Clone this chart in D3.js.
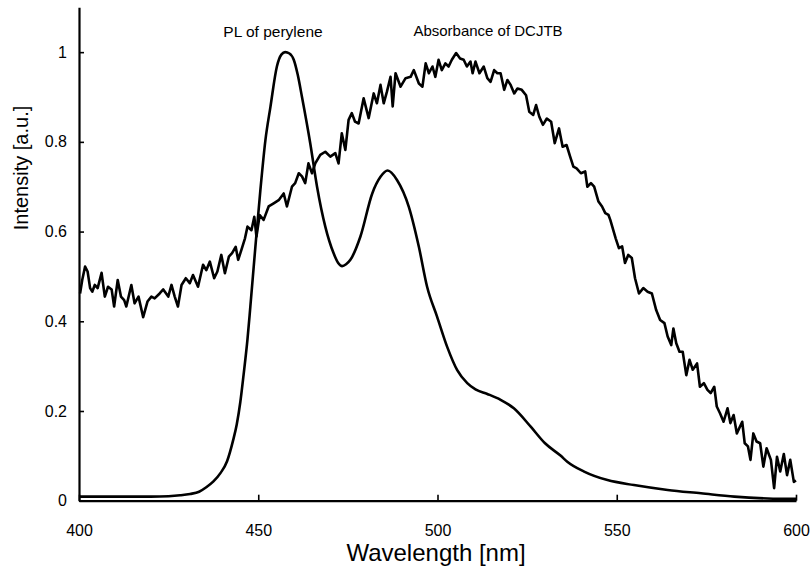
<!DOCTYPE html>
<html>
<head>
<meta charset="utf-8">
<script src="https://cdn.jsdelivr.net/npm/d3@7"></script>
<style>
  body { margin: 0; background: #fff; }
  svg text { font-family: "Liberation Sans", Arial, sans-serif; fill: #000; }
</style>
</head>
<body>
<div id="chart"></div>
<script>
////////////////////////////////////////////////////////////
//////////////////////// Data //////////////////////////////
////////////////////////////////////////////////////////////

// PL of perylene (smooth curve)
var plWavelength = [400, 410, 420, 425, 428.2, 431, 433.5, 435.5, 437.5, 439.5, 441.3, 443, 444, 445, 445.9, 447, 447.8,
  449.2, 450.6, 452, 453.4, 455.2, 456.5, 457.5, 458.7, 459.9, 461, 462.2, 464.5, 466.4, 468.7, 471, 472.3, 473.4,
  474.5, 475.7, 478.5, 481.8, 484.1, 486.1, 488.7, 492, 494.8, 497.1, 499.9, 502.7, 505.5, 508.3, 510.6, 513.9,
  517.6, 521.3, 526, 530, 534.4, 536.2, 540.9, 547.4, 554.8, 564.2, 573.5, 582.8, 592.1, 600];
var plIntensity = [0.009, 0.009, 0.009, 0.01, 0.012, 0.015, 0.02, 0.03, 0.043, 0.062, 0.088, 0.135, 0.17, 0.22, 0.28, 0.36, 0.433,
  0.566, 0.693, 0.804, 0.878, 0.968, 0.995, 1.0, 0.997, 0.983, 0.95, 0.9, 0.797, 0.7, 0.611, 0.552, 0.53, 0.523,
  0.527, 0.537, 0.589, 0.685, 0.722, 0.736, 0.715, 0.655, 0.566, 0.477, 0.41, 0.343, 0.291, 0.262, 0.248, 0.238,
  0.225, 0.206, 0.165, 0.128, 0.1, 0.087, 0.065, 0.046, 0.035, 0.024, 0.0165, 0.009, 0.005, 0.004];

// Absorbance of DCJTB (noisy curve)
var absWavelength = [400.3, 400.9, 401.7, 402.4, 403.1, 403.7, 404.4, 405.2, 406.3, 407.2, 408.1, 409.1, 409.8, 410.8,
  411.7, 412.6, 413.2, 414.6, 415.5, 416.6, 417.9, 419.1, 420.2, 421.1, 422.5, 423.5, 424.9, 425.8, 426.7, 427.6,
  428.6, 429.8, 430.9, 431.8, 433.2, 434.6, 435.5, 436.5, 437.7, 438.6, 439.7, 440.7, 441.8, 442.7, 443.7, 444.4,
  445.3, 446.3, 447.0, 448.1, 448.9, 449.5, 450.4, 451.5, 452.9, 454.3, 455.7, 457.1, 458.0, 459.4, 460.3, 461.3,
  462.2, 463.1, 464.0, 465.0, 465.9, 467.3, 468.7, 470.1, 471.5, 472.4, 473.3, 474.3, 475.2, 476.1, 477.0, 478.0,
  479.4, 480.8, 482.2, 483.1, 484.1, 485.0, 485.9, 486.9, 487.5, 488.3, 489.7, 491.1, 492.5, 493.4, 494.8, 495.8,
  496.7, 497.6, 498.6, 499.4, 500.3, 501.2, 502.2, 503.1, 504.0, 505.2, 506.3, 507.3, 508.2, 509.2, 509.8, 510.6,
  511.7, 512.9, 513.9, 514.8, 515.8, 516.7, 517.6, 518.6, 519.5, 520.4, 521.4, 522.3, 523.5, 524.7, 525.6, 526.7,
  527.5, 528.4, 529.4, 530.5, 531.7, 532.7, 533.9, 534.9, 536.0, 537.0, 537.9, 538.8, 540.0, 541.2, 541.8, 542.8,
  543.7, 544.9, 545.9, 546.8, 547.7, 548.2, 549.7, 550.6, 551.5, 552.3, 553.2, 554.2, 555.1, 556.2, 557.4, 558.6,
  559.8, 561.0, 562.1, 563.3, 564.2, 565.2, 565.8, 566.6, 567.5, 568.4, 569.4, 570.3, 571.2, 572.4, 573.2, 574.3,
  575.3, 576.2, 577.2, 577.9, 578.8, 579.8, 580.9, 581.7, 582.6, 583.5, 585.0, 585.7, 586.6, 587.3, 588.1, 589.0,
  590.0, 590.9, 591.8, 593.0, 593.9, 594.7, 595.6, 596.6, 597.5, 598.4, 599.4, 600];
var absIntensity = [0.462, 0.492, 0.522, 0.511, 0.474, 0.466, 0.481, 0.474, 0.508, 0.455, 0.477, 0.471, 0.433, 0.492,
  0.455, 0.447, 0.433, 0.481, 0.44, 0.455, 0.409, 0.444, 0.455, 0.451, 0.462, 0.471, 0.455, 0.481, 0.455, 0.433,
  0.481, 0.496, 0.485, 0.503, 0.477, 0.526, 0.514, 0.533, 0.496, 0.511, 0.548, 0.507, 0.544, 0.552, 0.566, 0.537,
  0.559, 0.585, 0.611, 0.603, 0.633, 0.589, 0.637, 0.626, 0.656, 0.663, 0.67, 0.685, 0.656, 0.7, 0.708, 0.73,
  0.723, 0.708, 0.752, 0.73, 0.752, 0.771, 0.778, 0.767, 0.775, 0.752, 0.819, 0.782, 0.849, 0.864, 0.845, 0.841,
  0.897, 0.853, 0.908, 0.886, 0.927, 0.886, 0.912, 0.945, 0.879, 0.953, 0.923, 0.942, 0.945, 0.96, 0.93, 0.923,
  0.975, 0.953, 0.968, 0.945, 0.983, 0.96, 0.975, 0.968, 0.983, 0.998, 0.986, 0.983, 0.968, 0.979, 0.953, 0.979,
  0.953, 0.968, 0.942, 0.934, 0.96, 0.953, 0.953, 0.916, 0.938, 0.927, 0.908, 0.919, 0.916, 0.904, 0.867, 0.86,
  0.882, 0.856, 0.838, 0.852, 0.845, 0.797, 0.83, 0.789, 0.793, 0.767, 0.745, 0.741, 0.73, 0.734, 0.7, 0.708,
  0.7, 0.667, 0.656, 0.641, 0.637, 0.626, 0.585, 0.563, 0.567, 0.53, 0.548, 0.541, 0.496, 0.462, 0.474, 0.466,
  0.462, 0.425, 0.403, 0.396, 0.366, 0.347, 0.384, 0.351, 0.332, 0.332, 0.28, 0.314, 0.292, 0.306, 0.254, 0.262,
  0.247, 0.24, 0.254, 0.21, 0.195, 0.176, 0.206, 0.173, 0.191, 0.15, 0.176, 0.128, 0.121, 0.091, 0.15, 0.132,
  0.128, 0.076, 0.117, 0.091, 0.028, 0.098, 0.065, 0.104, 0.057, 0.091, 0.042, 0.045];

var xTicks = [400, 450, 500, 550, 600];
var yTicks = [0, 0.2, 0.4, 0.6, 0.8, 1];
var yTickLabels = ["0", "0.2", "0.4", "0.6", "0.8", "1"];

////////////////////////////////////////////////////////////
//////////////////////// Set-Up ////////////////////////////
////////////////////////////////////////////////////////////

var width = 810, height = 577;

var x = d3.scaleLinear().domain([400, 600]).range([79, 796]);
var y = d3.scaleLinear().domain([0, 1.1]).range([500.7, 7.3]);

var svg = d3.select("#chart").append("svg")
  .attr("width", width)
  .attr("height", height);

////////////////////////////////////////////////////////////
//////////////////////// Axes //////////////////////////////
////////////////////////////////////////////////////////////

var xAxis = svg.append("g")
  .attr("transform", "translate(0," + y(0) + ")")
  .call(d3.axisBottom(x).tickValues(xTicks).tickSizeInner(-6).tickSizeOuter(0).tickPadding(24));

var yAxis = svg.append("g")
  .attr("transform", "translate(" + x(400) + ",0)")
  .call(d3.axisLeft(y).tickValues(yTicks).tickSizeInner(-5).tickSizeOuter(0).tickPadding(12)
    .tickFormat(function(d, i) { return yTickLabels[i]; }));

[xAxis, yAxis].forEach(function(g) {
  g.select(".domain").attr("stroke", "#000").attr("stroke-width", 2.2);
  g.selectAll(".tick line").attr("stroke", "#000").attr("stroke-width", 1.6);
  g.selectAll(".tick text").attr("font-size", 16).attr("font-family", null);
});

// axis titles
svg.append("text")
  .attr("x", 436)
  .attr("y", 561)
  .attr("text-anchor", "middle")
  .attr("font-size", 24)
  .text("Wavelength [nm]");

svg.append("text")
  .attr("transform", "translate(28,168) rotate(-90)")
  .attr("text-anchor", "middle")
  .attr("font-size", 20)
  .text("Intensity [a.u.]");

////////////////////////////////////////////////////////////
//////////////////////// Curves ////////////////////////////
////////////////////////////////////////////////////////////

var plData = plWavelength.map(function(w, i) { return [w, plIntensity[i]]; });
var absData = absWavelength.map(function(w, i) { return [w, absIntensity[i]]; });

var smoothLine = d3.line()
  .x(function(d) { return x(d[0]); })
  .y(function(d) { return y(d[1]); })
  .curve(d3.curveMonotoneX);

var rawLine = d3.line()
  .x(function(d) { return x(d[0]); })
  .y(function(d) { return y(d[1]); });

svg.append("path")
  .datum(absData)
  .attr("fill", "none")
  .attr("stroke", "#000")
  .attr("stroke-width", 2.6)
  .attr("stroke-linejoin", "round")
  .attr("d", rawLine);

svg.append("path")
  .datum(plData)
  .attr("fill", "none")
  .attr("stroke", "#000")
  .attr("stroke-width", 2.6)
  .attr("stroke-linejoin", "round")
  .attr("d", smoothLine);

// curve labels
svg.append("text")
  .attr("x", 273)
  .attr("y", 37)
  .attr("text-anchor", "middle")
  .attr("font-size", 15.5)
  .text("PL of perylene");

svg.append("text")
  .attr("x", 488)
  .attr("y", 36)
  .attr("text-anchor", "middle")
  .attr("font-size", 15)
  .text("Absorbance of DCJTB");
</script>
</body>
</html>
